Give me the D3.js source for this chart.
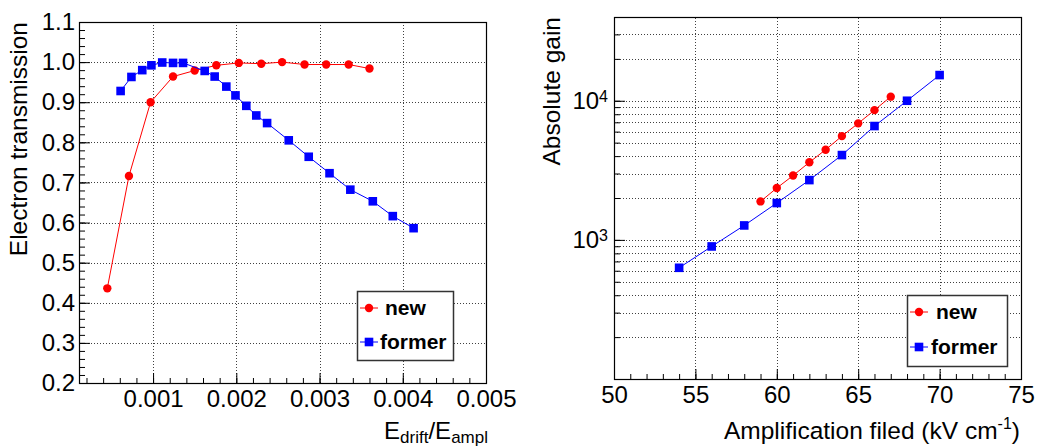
<!DOCTYPE html>
<html>
<head>
<meta charset="utf-8">
<script src="https://cdn.jsdelivr.net/npm/d3@7"></script>
<style>
  body { margin: 0; background: #fff; }
  svg { display: block; font-family: "Liberation Sans", Arial, Helvetica, sans-serif; }
</style>
</head>
<body>
<div id="chart"></div>
<script>
// left panel: electron transmission vs field ratio
var transNewX = [0.00045, 0.00071, 0.00097, 0.00124, 0.0015, 0.00176, 0.00203, 0.0023, 0.00255, 0.00282, 0.00308, 0.00335, 0.0036];
var transNewY = [0.436, 0.716, 0.900, 0.964, 0.979, 0.992, 0.998, 0.996, 1.000, 0.994, 0.994, 0.994, 0.984];
var transFormerX = [0.00061, 0.00074, 0.00087, 0.00098, 0.00111, 0.00124, 0.00136, 0.00162, 0.00174, 0.00188, 0.00199, 0.00212, 0.00224, 0.00237, 0.00263, 0.00287, 0.00312, 0.00337, 0.00364, 0.00388, 0.00413];
var transFormerY = [0.928, 0.963, 0.980, 0.992, 0.999, 0.998, 0.998, 0.978, 0.964, 0.939, 0.917, 0.891, 0.867, 0.848, 0.805, 0.764, 0.723, 0.682, 0.653, 0.616, 0.586];

// right panel: absolute gain vs amplification field
var gainNewX = [59, 60, 61, 62, 63, 64, 65, 66, 67];
var gainNewY = [1890, 2360, 2900, 3610, 4450, 5570, 6880, 8560, 10700];
var gainFormerX = [54, 56, 58, 60, 62, 64, 66, 68, 70];
var gainFormerY = [630, 897, 1270, 1840, 2690, 4070, 6580, 10000, 15300];

var leftXTicks = [0.001, 0.002, 0.003, 0.004, 0.005];
var leftYTicks = [0.2, 0.3, 0.4, 0.5, 0.6, 0.7, 0.8, 0.9, 1.0, 1.1];
var rightXTicks = [50, 55, 60, 65, 70, 75];
var rightYTicks = [1000, 10000];
var legendNames = ["new", "former"];

var W = 1037, H = 446;
var RED = "#ff0000", BLUE = "#0000ff";
var FONT = "'Liberation Sans', Arial, Helvetica, sans-serif";

var svg = d3.select("#chart").append("svg")
    .attr("width", W)
    .attr("height", H);

var drawPanel = (p) => {
  var g = svg.append("g");
  var x = p.x, y = p.y;
  var x0 = x.range()[0], x1 = x.range()[1];
  var y0 = y.range()[0], y1 = y.range()[1];

  // grid
  g.append("g").selectAll("line").data(p.xGrid).enter().append("line")
      .attr("x1", (d) => Math.round(x(d)) + 0.5).attr("x2", (d) => Math.round(x(d)) + 0.5)
      .attr("y1", y0).attr("y2", y1)
      .attr("stroke", "#000").attr("stroke-opacity", 0.75)
      .attr("stroke-dasharray", "1,2");
  g.append("g").selectAll("line").data(p.yGrid).enter().append("line")
      .attr("x1", x0).attr("x2", x1)
      .attr("y1", (d) => Math.round(y(d)) + 0.5).attr("y2", (d) => Math.round(y(d)) + 0.5)
      .attr("stroke", "#000").attr("stroke-opacity", 0.75)
      .attr("stroke-dasharray", "1,2");

  // minor ticks
  g.append("g").attr("transform", "translate(0," + y0 + ")")
      .call(d3.axisBottom(x).tickValues(p.xMinor).tickSize(-5).tickFormat(""))
      .call((a) => a.select(".domain").remove());
  g.append("g").attr("transform", "translate(" + x0 + ",0)")
      .call(d3.axisLeft(y).tickValues(p.yMinor).tickSize(-6).tickFormat(""))
      .call((a) => a.select(".domain").remove());

  // major ticks + labels
  var xa = g.append("g").attr("transform", "translate(0," + y0 + ")")
      .call(d3.axisBottom(x).tickValues(p.xTicks).tickSize(-10).tickPadding(7).tickFormat(p.xFormat));
  var ya = g.append("g").attr("transform", "translate(" + x0 + ",0)")
      .call(d3.axisLeft(y).tickValues(p.yTicks).tickSize(-11).tickPadding(p.yPad).tickFormat(p.yFormat));
  [xa, ya].forEach((a) => {
    a.select(".domain").remove();
    a.attr("font-family", FONT).attr("font-size", 24);
    a.selectAll("text").attr("fill", "#000");
  });
  if (p.yLog) {
    ya.selectAll("text").text(null).each(function (d) {
      var t = d3.select(this);
      t.append("tspan").text("10");
      t.append("tspan").attr("dy", "-0.45em").attr("font-size", 16).text(Math.round(Math.log10(d)));
    });
  }

  // frame
  g.append("rect")
      .attr("x", x0 + 0.5).attr("y", y1 + 0.5)
      .attr("width", x1 - x0).attr("height", y0 - y1)
      .attr("fill", "none").attr("stroke", "#000").attr("stroke-width", 1.2);

  // series
  var line = d3.line().x((d) => x(d[0])).y((d) => y(d[1]));
  p.series.forEach((s) => {
    var pts = s.xs.map((v, i) => [v, s.ys[i]]);
    g.append("path").datum(pts)
        .attr("d", line)
        .attr("fill", "none").attr("stroke", s.color).attr("stroke-width", 1);
    if (s.shape === "circle") {
      g.append("g").selectAll("circle").data(pts).enter().append("circle")
          .attr("cx", (d) => x(d[0])).attr("cy", (d) => y(d[1]))
          .attr("r", 4.2).attr("fill", s.color);
    } else {
      g.append("g").selectAll("rect").data(pts).enter().append("rect")
          .attr("x", (d) => x(d[0]) - 4.3).attr("y", (d) => y(d[1]) - 4.3)
          .attr("width", 8.6).attr("height", 8.6).attr("fill", s.color);
    }
  });

  // legend
  var L = p.legend;
  var lg = g.append("g").attr("transform", "translate(" + L.x + "," + L.y + ")");
  lg.append("rect").attr("x", 0.5).attr("y", 0.5).attr("width", L.w).attr("height", L.h)
      .attr("fill", "#fff").attr("stroke", "#333").attr("stroke-width", 1.5);
  p.series.forEach((s, i) => {
    var cy = L.rows[i];
    lg.append("line").attr("x1", 3).attr("x2", 21).attr("y1", cy).attr("y2", cy)
        .attr("stroke", s.color).attr("stroke-width", 1);
    if (s.shape === "circle") {
      lg.append("circle").attr("cx", 12).attr("cy", cy).attr("r", 4.2).attr("fill", s.color);
    } else {
      lg.append("rect").attr("x", 7.7).attr("y", cy - 4.3).attr("width", 8.6).attr("height", 8.6).attr("fill", s.color);
    }
    lg.append("text").attr("x", L.tx[i]).attr("y", cy).attr("dy", "0.35em")
        .attr("font-size", 21).attr("font-weight", "bold").text(legendNames[i]);
  });
  return g;
};

// left panel
var lx = d3.scaleLinear().domain([0.00011, 0.005]).range([79, 486]);
var ly = d3.scaleLinear().domain([0.2, 1.1]).range([383, 22]);
var left = drawPanel({
  x: lx, y: ly,
  xTicks: leftXTicks, yTicks: leftYTicks,
  xMinor: d3.range(0.0002, 0.00501, 0.0002), yMinor: d3.range(0.2, 1.101, 0.02),
  xGrid: leftXTicks.slice(0, 4), yGrid: leftYTicks.slice(1, 9),
  xFormat: d3.format(".3f"), yFormat: d3.format(".1f"), yPad: 4,
  series: [
    {xs: transNewX, ys: transNewY, color: RED, shape: "circle"},
    {xs: transFormerX, ys: transFormerY, color: BLUE, shape: "square"}
  ],
  legend: {x: 357, y: 291, w: 96, h: 69, rows: [17, 51], tx: [28, 23]}
});
left.append("text")
    .attr("transform", "translate(27,22) rotate(-90)")
    .attr("text-anchor", "end").attr("font-size", 24.5)
    .text("Electron transmission");
var xt = left.append("text").attr("x", 488).attr("y", 439)
    .attr("text-anchor", "end").attr("font-size", 24);
xt.append("tspan").text("E");
xt.append("tspan").attr("font-size", 17).attr("dy", 4).text("drift");
xt.append("tspan").attr("dy", -4).text("/E");
xt.append("tspan").attr("font-size", 17).attr("dy", 4).text("ampl");

// right panel
var rx = d3.scaleLinear().domain([50, 75]).range([614, 1021]);
var ry = d3.scaleLog().domain([100, 40000]).range([379, 17]);
var logTicks = ry.ticks().filter((d) => d >= 100 && d <= 40000);
var right = drawPanel({
  x: rx, y: ry,
  xTicks: rightXTicks, yTicks: rightYTicks, yLog: true,
  xMinor: d3.range(51, 75, 1), yMinor: logTicks,
  xGrid: rightXTicks.slice(1, 5), yGrid: logTicks.filter((d) => d > 100 && d < 40000),
  xFormat: d3.format("d"), yFormat: d3.format("d"), yPad: 6,
  series: [
    {xs: gainNewX, ys: gainNewY, color: RED, shape: "circle"},
    {xs: gainFormerX, ys: gainFormerY, color: BLUE, shape: "square"}
  ],
  legend: {x: 907, y: 295, w: 100, h: 71, rows: [17, 52], tx: [29, 24]}
});
right.append("text")
    .attr("transform", "translate(560,17) rotate(-90)")
    .attr("text-anchor", "end").attr("font-size", 24.5)
    .text("Absolute gain");
var rt = right.append("text").attr("x", 1020).attr("y", 439)
    .attr("text-anchor", "end").attr("font-size", 24.5);
rt.append("tspan").text("Amplification filed (kV cm");
rt.append("tspan").attr("font-size", 16).attr("dy", -10).text("-1");
rt.append("tspan").attr("dy", 10).text(")");
</script>
</body>
</html>
